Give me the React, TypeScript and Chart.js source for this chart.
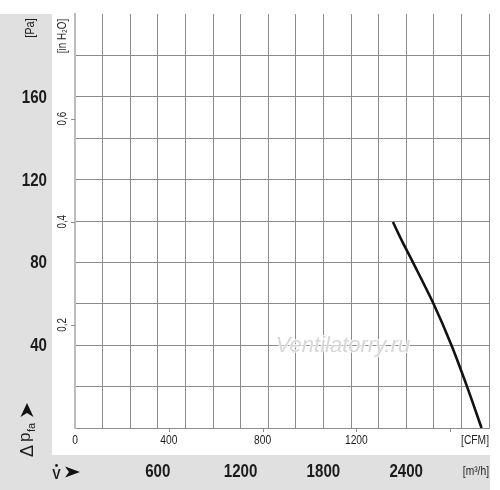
import React, { useEffect, useRef } from 'react';
import { Chart, registerables } from 'chart.js';

Chart.register(...registerables);

// ---- data ----
const flowM3h = [2304, 2372, 2449, 2598, 2728, 2841, 2946];
const pressurePa = [99.5, 90, 80, 60, 40, 20, 0];

const paTicks = [40, 80, 120, 160];
const m3hTicks = [600, 1200, 1800, 2400];
const cfmLabels = [0, 400, 800, 1200];
const cfmMarks = [400, 800, 1200, 1600];
const inH2OTicks = [0.2, 0.4, 0.6];

const M3H_MAX = 3000;
const PA_MAX = 200;
const M3H_PER_CFM = 1.699;
const PA_PER_INH2O = 249.089;

const BAND = '#e0e0e0';
const GRID = '#8c8c8c';
const TEXT = '#1c1c1c';
const FONT = '"Liberation Sans", Arial, sans-serif';

type TOpts = {
  align?: CanvasTextAlign;
  baseline?: CanvasTextBaseline;
  weight?: string;
  rot?: number;
  sx?: number;
  color?: string;
  italic?: boolean;
};

function txt(ctx: CanvasRenderingContext2D, s: string, x: number, y: number, size: number, o: TOpts = {}) {
  ctx.save();
  ctx.translate(x, y);
  if (o.rot) ctx.rotate(o.rot);
  ctx.scale(o.sx ?? 0.82, 1);
  ctx.font = `${o.italic ? 'italic ' : ''}${o.weight ?? 'normal'} ${size}px ${FONT}`;
  ctx.textAlign = o.align ?? 'center';
  ctx.textBaseline = o.baseline ?? 'middle';
  ctx.fillStyle = o.color ?? TEXT;
  ctx.fillText(s, 0, 0);
  ctx.restore();
}

function arrow(ctx: CanvasRenderingContext2D, pts: number[][]) {
  ctx.save();
  ctx.fillStyle = '#111';
  ctx.beginPath();
  ctx.moveTo(pts[0][0], pts[0][1]);
  for (let i = 1; i < pts.length; i++) ctx.lineTo(pts[i][0], pts[i][1]);
  ctx.closePath();
  ctx.fill();
  ctx.restore();
}

const decorPlugin = {
  id: 'decor',
  beforeDraw(chart: any) {
    const ctx: CanvasRenderingContext2D = chart.ctx;
    ctx.save();
    ctx.fillStyle = '#ffffff';
    ctx.fillRect(0, 0, chart.width, chart.height);
    ctx.fillStyle = BAND;
    ctx.fillRect(0, 14, 52, chart.height - 14);
    ctx.fillRect(0, 455, 490, chart.height - 455);
    ctx.restore();
  },
  afterDraw(chart: any) {
    const ctx: CanvasRenderingContext2D = chart.ctx;
    const xs = chart.scales.x;
    const ys = chart.scales.y;
    const area = chart.chartArea;
    const R = -Math.PI / 2;

    // watermark
    ctx.save();
    ctx.translate(343, 352);
    ctx.font = `italic 22px ${FONT}`;
    ctx.textAlign = 'center';
    ctx.textBaseline = 'alphabetic';
    ctx.lineWidth = 2;
    ctx.strokeStyle = 'rgba(255,255,255,0.8)';
    ctx.strokeText('Ventilatorry.ru', 0, 0);
    ctx.fillStyle = 'rgba(205,205,205,0.8)';
    ctx.fillText('Ventilatorry.ru', 0, 0);
    ctx.restore();

    // Pa labels
    paTicks.forEach((v) =>
      txt(ctx, String(v), 47, ys.getPixelForValue(v) + 1, 18, { align: 'right', weight: 'bold', sx: 0.84 })
    );
    txt(ctx, '[Pa]', 30, 28, 13, { rot: R, sx: 0.85 });

    // in H2O ticks and CFM ticks
    ctx.save();
    ctx.strokeStyle = GRID;
    ctx.lineWidth = 1;
    inH2OTicks.forEach((v) => {
      const y = Math.round(ys.getPixelForValue(v * PA_PER_INH2O)) + 0.5;
      ctx.beginPath();
      ctx.moveTo(area.left - 4, y);
      ctx.lineTo(area.left, y);
      ctx.stroke();
    });
    cfmMarks.forEach((v) => {
      const x = Math.round(xs.getPixelForValue(v * M3H_PER_CFM)) + 0.5;
      ctx.beginPath();
      ctx.moveTo(x, area.bottom);
      ctx.lineTo(x, area.bottom + 4);
      ctx.stroke();
    });
    ctx.restore();
    inH2OTicks.forEach((v) =>
      txt(ctx, String(v).replace('.', ','), 63, ys.getPixelForValue(v * PA_PER_INH2O), 12, { rot: R })
    );
    txt(ctx, '[in H\u2082O]', 63, 36, 12, { rot: R });

    // CFM labels
    cfmLabels.forEach((v) => txt(ctx, String(v), xs.getPixelForValue(v * M3H_PER_CFM), 441, 12.5));
    txt(ctx, '[CFM]', 489, 441, 12.5, { align: 'right' });

    // m3/h labels
    m3hTicks.forEach((v) => txt(ctx, String(v), xs.getPixelForValue(v), 472, 18, { weight: 'bold', sx: 0.84 }));
    txt(ctx, '[m\u00B3/h]', 489, 472, 12.5, { align: 'right' });

    // V-dot arrow
    txt(ctx, 'V', 56.5, 479, 14, { weight: 'bold', baseline: 'alphabetic', sx: 0.9 });
    ctx.save();
    ctx.fillStyle = TEXT;
    ctx.beginPath();
    ctx.arc(56.5, 465.5, 1.4, 0, Math.PI * 2);
    ctx.fill();
    ctx.restore();
    arrow(ctx, [[80, 472], [65, 466.5], [69, 472], [65, 477.5]]);

    // Delta p_fa arrow (rotated)
    ctx.save();
    ctx.translate(27, 457);
    ctx.rotate(R);
    ctx.fillStyle = TEXT;
    ctx.textBaseline = 'alphabetic';
    ctx.textAlign = 'left';
    ctx.font = `normal 18px ${FONT}`;
    ctx.fillText('\u0394', 0, 6);
    ctx.font = `normal 17px ${FONT}`;
    ctx.fillText('p', 15, 3);
    ctx.font = `normal 11px ${FONT}`;
    ctx.fillText('fa', 25, 8);
    ctx.restore();
    arrow(ctx, [[27, 403], [20.5, 417], [27, 413], [33.5, 417]]);
  },
};

export default function App() {
  const ref = useRef<HTMLCanvasElement | null>(null);
  useEffect(() => {
    if (!ref.current) return;
    const chart = new Chart(ref.current, {
      type: 'line',
      data: {
        datasets: [
          {
            data: flowM3h.map((x, i) => ({ x, y: pressurePa[i] })),
            borderColor: '#111111',
            borderWidth: 2.6,
            pointRadius: 0,
            tension: 0.3,
            fill: false,
          },
        ],
      },
      options: {
        responsive: false,
        devicePixelRatio: 1,
        animation: false,
        layout: { padding: { left: 75, right: 11, top: 14, bottom: 62 } },
        plugins: { legend: { display: false }, tooltip: { enabled: false } },
        scales: {
          x: {
            type: 'linear',
            min: 0,
            max: M3H_MAX,
            ticks: { display: false, stepSize: 200 },
            grid: {
              drawTicks: false,
              color: (c: any) => (c.tick && c.tick.value === 0 ? 'rgba(0,0,0,0)' : GRID),
              lineWidth: 1,
            },
            border: { display: true, color: GRID, width: 1 },
          },
          y: {
            type: 'linear',
            min: 0,
            max: PA_MAX,
            ticks: { display: false, stepSize: 20 },
            grid: {
              drawTicks: false,
              color: (c: any) =>
                c.tick && (c.tick.value === 0 || c.tick.value === PA_MAX) ? 'rgba(0,0,0,0)' : GRID,
              lineWidth: 1,
            },
            border: { display: true, color: '#bdbdbd', width: 2 },
          },
        },
      },
      plugins: [decorPlugin],
    } as any);
    return () => chart.destroy();
  }, []);
  return (
    <div style={{ position: 'fixed', left: 0, top: 0, width: 500, height: 490, background: '#fff' }}>
      <canvas ref={ref} width={500} height={490} style={{ display: 'block' }} />
    </div>
  );
}
